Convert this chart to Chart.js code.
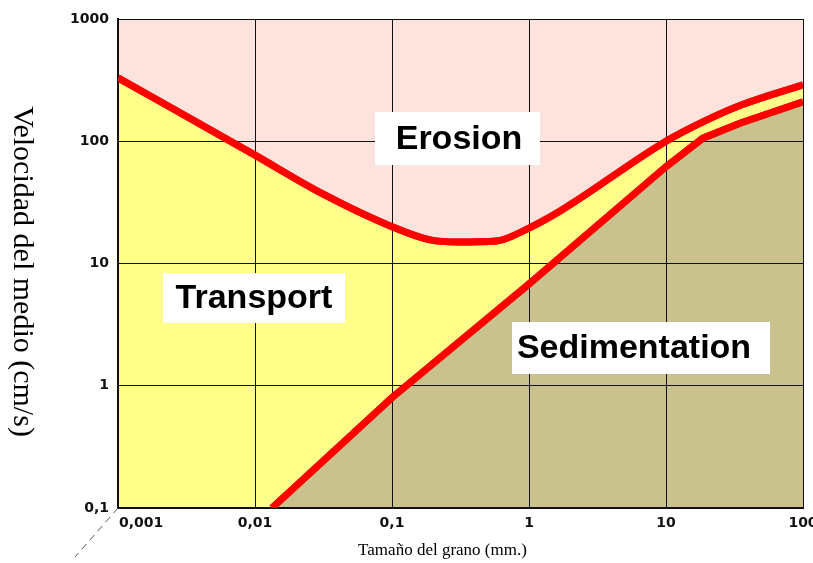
<!DOCTYPE html>
<html>
<head>
<meta charset="utf-8">
<script src="https://cdn.jsdelivr.net/npm/chart.js@4/dist/chart.umd.min.js"></script>
<style>
  html, body { margin: 0; padding: 0; background: #fff; }
  canvas { display: block; }
</style>
</head>
<body>
<canvas id="c" width="813" height="563"></canvas>
<script>
// Hjulström diagram: grain size (mm) against flow velocity (cm/s), log-log axes.
const xTicks = [0.001, 0.01, 0.1, 1, 10, 100];
const xTickLabels = ['0,001', '0,01', '0,1', '1', '10', '100'];
const yTicks = [0.1, 1, 10, 100, 1000];
const yTickLabels = ['0,1', '1', '10', '100', '1000'];

// Erosion threshold: above it, grains are picked up
const erosionSize = [0.001, 0.01, 0.03, 0.1, 0.19, 0.3, 0.58, 1.0, 1.7, 10, 18.6, 35, 100];
const erosionVel  = [330, 77, 38, 20, 15.6, 15, 15.3, 19.5, 27, 100, 144, 197, 290];

// Settling threshold: below it, grains are deposited
const sedimentSize = [0.0133, 0.1, 1, 10, 18.6, 35, 100];
const sedimentVel  = [0.1, 0.8, 6.8, 62, 106, 141, 210];

const regionNames = ['Erosion', 'Transport', 'Sedimentation'];

const xTitle = 'Tamaño del grano (mm.)';
const yTitle = 'Velocidad del medio (cm/s)';

const toPoints = (xs, ys) => xs.map((x, i) => ({ x, y: ys[i] }));

// Where each region name sits (box centre in data units, box size in px)
const regionBoxes = [
  { at: [0.3006, 105.3], w: 165, h: 53, dx: 1.5 },
  { at: [0.00983, 5.22], w: 182, h: 50, dx: 0 },
  { at: [6.57, 2.04],    w: 258, h: 52, dx: -7 }
];

const RED = '#ff0000';

const overlay = {
  id: 'overlay',
  beforeDatasetsDraw(chart) {
    const { ctx, chartArea: a } = chart;
    ctx.save();
    ctx.fillStyle = '#ffff8a';          // transport band
    ctx.fillRect(a.left, a.top, a.right - a.left, a.bottom - a.top);
    ctx.restore();
  },
  afterDraw(chart) {
    const { ctx, chartArea: a } = chart;
    const xs = chart.scales.x, ys = chart.scales.y;

    // threshold curves on top of the grid
    ctx.save();
    ctx.beginPath();
    ctx.rect(a.left, a.top, a.right - a.left, a.bottom - a.top);
    ctx.clip();
    chart.data.datasets.forEach((d, i) => {
      chart.getDatasetMeta(i).dataset.draw(ctx, a);
    });
    ctx.restore();

    // region names in white boxes
    ctx.save();
    ctx.font = 'bold 34px "Liberation Sans", Arial, sans-serif';
    ctx.textAlign = 'center';
    ctx.textBaseline = 'middle';
    regionBoxes.forEach((b, i) => {
      const cx = xs.getPixelForValue(b.at[0]);
      const cy = ys.getPixelForValue(b.at[1]);
      ctx.fillStyle = '#ffffff';
      ctx.fillRect(Math.round(cx - b.w / 2), Math.round(cy - b.h / 2), b.w, b.h);
      ctx.fillStyle = '#000000';
      ctx.fillText(regionNames[i], cx + b.dx, cy + 1);
    });
    ctx.restore();

    // x tick labels
    ctx.save();
    ctx.font = 'bold 14px "DejaVu Sans", sans-serif';
    ctx.fillStyle = '#111';
    ctx.textBaseline = 'middle';
    xTicks.forEach((v, i) => {
      const px = xs.getPixelForValue(v);
      ctx.textAlign = i === 0 ? 'left' : 'center';
      ctx.fillText(xTickLabels[i], i === 0 ? px + 1 : px, a.bottom + 15);
    });
    ctx.restore();

    // axis titles
    ctx.save();
    ctx.fillStyle = '#000';
    ctx.font = '17px "Liberation Serif", "Times New Roman", serif';
    ctx.textAlign = 'center';
    ctx.textBaseline = 'middle';
    ctx.fillText(xTitle, a.left + (a.right - a.left) / 2 - 18, a.bottom + 43);
    ctx.translate(22, (a.top + a.bottom) / 2 + 8);
    ctx.rotate(Math.PI / 2);
    ctx.font = '30px "Liberation Serif", "Times New Roman", serif';
    ctx.fillText(yTitle, 0, 0);
    ctx.restore();

    // dashed depth cue at the origin corner
    ctx.save();
    ctx.strokeStyle = '#555';
    ctx.lineWidth = 1;
    ctx.setLineDash([7, 5]);
    ctx.beginPath();
    ctx.moveTo(a.left, a.bottom);
    ctx.lineTo(a.left - 43, a.bottom + 49);
    ctx.stroke();
    ctx.restore();
  }
};

new Chart(document.getElementById('c'), {
  type: 'line',
  data: {
    datasets: [
      {
        label: 'Erosión',
        data: toPoints(erosionSize, erosionVel),
        borderColor: RED,
        borderWidth: 7,
        backgroundColor: '#fde3dd',
        fill: 'end',
        pointRadius: 0,
        cubicInterpolationMode: 'monotone',
        clip: 0
      },
      {
        label: 'Sedimentación',
        data: toPoints(sedimentSize, sedimentVel),
        borderColor: RED,
        borderWidth: 7,
        backgroundColor: '#c9c28f',
        fill: 'start',
        pointRadius: 0,
        tension: 0,
        clip: 0
      }
    ]
  },
  options: {
    responsive: false,
    animation: false,
    events: [],
    layout: { padding: { top: 19, right: 10, left: 0, bottom: 0 } },
    plugins: { legend: { display: false }, tooltip: { enabled: false } },
    scales: {
      x: {
        type: 'logarithmic',
        min: 0.001,
        max: 100,
        afterBuildTicks: s => { s.ticks = xTicks.map(v => ({ value: v })); },
        afterFit: s => { s.height = 55; },
        ticks: { display: false, autoSkip: false },
        grid: { color: '#111', lineWidth: 1, drawTicks: false, z: 1 },
        border: { color: '#111', width: 2, z: 1 },
        title: { display: false }
      },
      y: {
        type: 'logarithmic',
        min: 0.1,
        max: 1000,
        afterBuildTicks: s => { s.ticks = yTicks.map(v => ({ value: v })); },
        afterFit: s => { s.width = 118; },
        ticks: {
          autoSkip: false,
          padding: 9,
          color: '#111',
          font: { family: '"DejaVu Sans", sans-serif', size: 14, weight: 'bold' },
          callback: (v, i) => yTickLabels[i]
        },
        grid: { color: '#111', lineWidth: 1, drawTicks: false, z: 1 },
        border: { color: '#111', width: 2, z: 1 },
        title: { display: false }
      }
    }
  },
  plugins: [overlay]
});
</script>
</body>
</html>
